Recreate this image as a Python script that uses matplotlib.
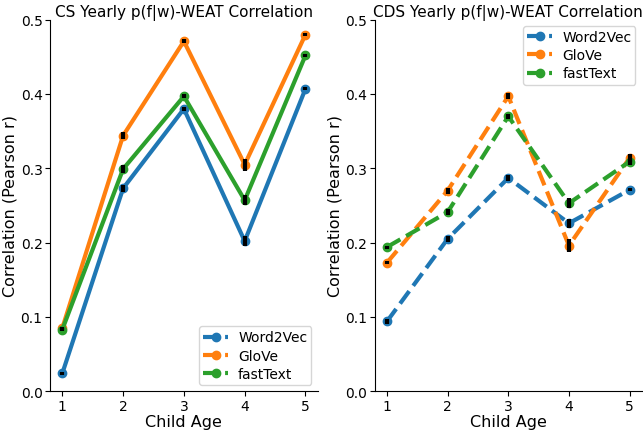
import matplotlib
matplotlib.use("Agg")
import matplotlib.pyplot as plt
from matplotlib.lines import Line2D

ages = [1, 2, 3, 4, 5]
models = ["Word2Vec", "GloVe", "fastText"]
colors = ["#1f77b4", "#ff7f0e", "#2ca02c"]

# CS yearly correlations
cs_w2v = [0.024, 0.273, 0.380, 0.202, 0.407]
cs_glove = [0.085, 0.344, 0.471, 0.305, 0.480]
cs_fasttext = [0.083, 0.299, 0.397, 0.257, 0.452]
cs_w2v_err = [0.002, 0.005, 0.003, 0.007, 0.002]
cs_glove_err = [0.002, 0.005, 0.003, 0.008, 0.002]
cs_fasttext_err = [0.002, 0.005, 0.003, 0.007, 0.002]

# CDS yearly correlations
cds_w2v = [0.094, 0.205, 0.287, 0.226, 0.271]
cds_glove = [0.173, 0.270, 0.397, 0.196, 0.314]
cds_fasttext = [0.194, 0.241, 0.370, 0.253, 0.309]
cds_w2v_err = [0.003, 0.004, 0.004, 0.006, 0.002]
cds_glove_err = [0.002, 0.004, 0.004, 0.009, 0.005]
cds_fasttext_err = [0.002, 0.004, 0.003, 0.007, 0.004]

fig = plt.figure(figsize=(6.43, 4.31), dpi=100)
ax1 = fig.add_axes([0.078, 0.090, 0.416, 0.862])
ax2 = fig.add_axes([0.583, 0.090, 0.415, 0.862])


def draw(ax, series, errs, ls, title, loc):
    for vals, err, c in zip(series, errs, colors):
        ax.plot(ages, vals, ls=ls, color=c, lw=3, marker="o", ms=6, zorder=2)
        ax.errorbar(ages, vals, yerr=err, fmt="none", ecolor="black",
                    elinewidth=3, capsize=0, zorder=3)
    ax.set_ylim(0, 0.5)
    ax.set_xticks(ages)
    ax.set_yticks([0.0, 0.1, 0.2, 0.3, 0.4, 0.5])
    ax.tick_params(labelsize=10, pad=2)
    ax.set_xlabel("Child Age", fontsize=11.5, labelpad=1)
    ax.set_ylabel("Correlation (Pearson r)", fontsize=11.5, labelpad=2)
    ax.set_title(title, fontsize=11, pad=1)
    ax.spines["top"].set_visible(False)
    ax.spines["right"].set_visible(False)
    handles = [Line2D([], [], color=c, ls="--", lw=3, marker="o", ms=6) for c in colors]
    ax.legend(handles, models, loc=loc, fontsize=10, labelspacing=0.3,
              borderpad=0.3, handlelength=1.8, handletextpad=0.7,
              borderaxespad=0.45)


draw(ax1, [cs_w2v, cs_glove, cs_fasttext],
     [cs_w2v_err, cs_glove_err, cs_fasttext_err], "-",
     "CS Yearly p(f|w)-WEAT Correlation", "lower right")
draw(ax2, [cds_w2v, cds_glove, cds_fasttext],
     [cds_w2v_err, cds_glove_err, cds_fasttext_err], "--",
     "CDS Yearly p(f|w)-WEAT Correlation", "upper right")

fig.savefig("out.png", dpi=100)
